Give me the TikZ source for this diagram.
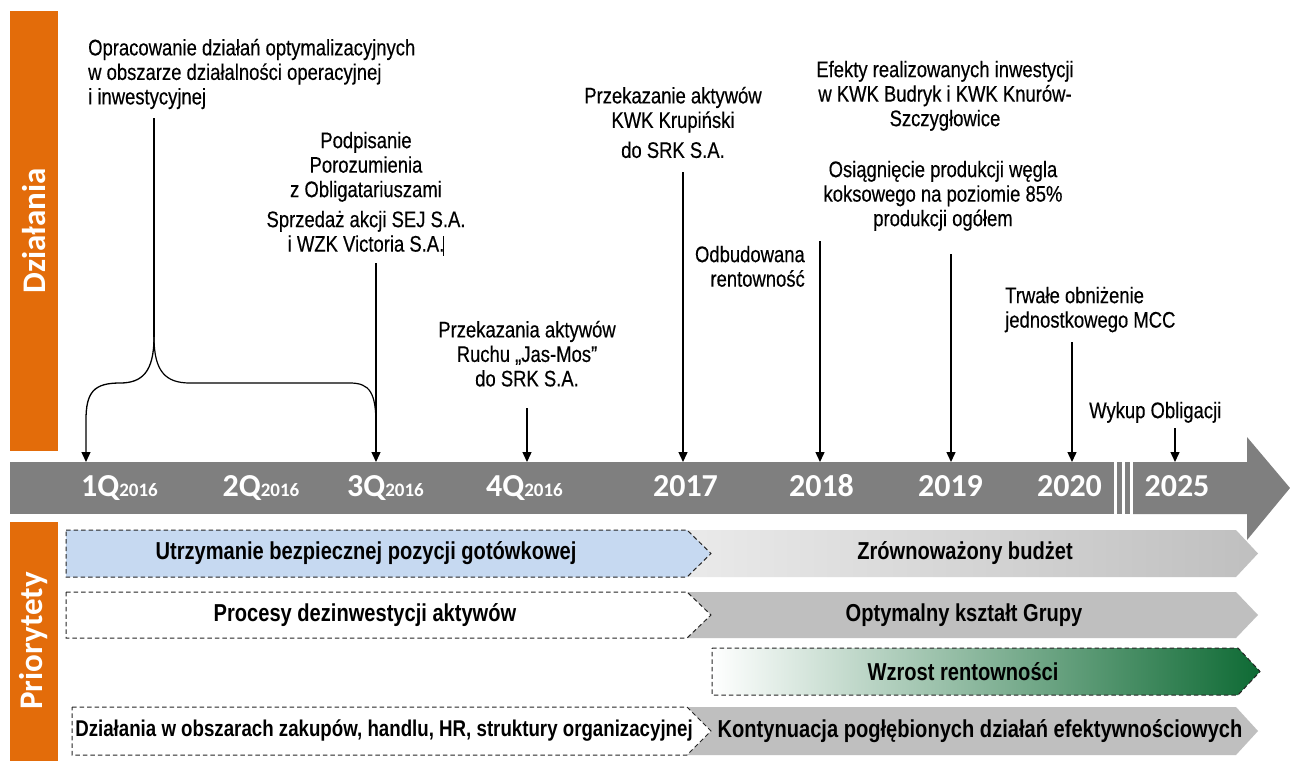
\documentclass[tikz,border=0pt]{standalone}
\usepackage{fontspec}
\setmainfont{Liberation Sans}
\newfontfamily\narrowf[FakeStretch=0.82,FakeBold=0.35]{Liberation Sans}
\newfontfamily\narrowb[FakeStretch=0.82]{Liberation Sans Bold}
\newfontfamily\gillf{Carlito}
\usetikzlibrary{arrows.meta}
\definecolor{orng}{RGB}{227,108,10}
\definecolor{bandgray}{RGB}{127,127,127}
\definecolor{rowgray}{RGB}{191,191,191}
\definecolor{lgray}{RGB}{234,234,234}
\definecolor{blu}{RGB}{198,217,241}
\definecolor{dgreen}{RGB}{14,106,52}
\tikzset{
  ann/.style={font={\narrowf\fontsize{22.5}{24.5}\selectfont}, inner sep=0pt, text=black},
  rowtxt/.style={font={\narrowb\fontsize{24.5}{26}\selectfont}, inner sep=0pt, text=black},
  yearlbl/.style={font={\gillf\bfseries\fontsize{32}{34}\selectfont}, text=white, anchor=base, inner sep=0pt},
  sidelbl/.style={font={\gillf\bfseries\fontsize{33}{35}\selectfont}, text=white, rotate=90, inner sep=0pt},
  arr/.style={draw=black, line width=1.4pt, -{Triangle[length=10pt,width=9pt]}},
  bracel/.style={draw=black, line width=1.2pt},
  dbox/.style={draw=black!85, line width=1pt, dash pattern=on 4.5pt off 3pt},
}
\newcommand{\smallyr}[1]{{\fontsize{19}{20}\selectfont #1}}
\begin{document}
\begin{tikzpicture}[x=1pt,y=-1pt]
\useasboundingbox (0,0) rectangle (1290,761);
\fill[white] (0,0) rectangle (1290,761);

% orange side bars
\fill[orng] (10,11) rectangle (58,451);
\fill[orng] (10,522) rectangle (58,761);
\node[sidelbl] (lblD) at (34,231) {Działania};
\node[sidelbl] (lblP) at (34,641) {Priorytety};

% timeline band
\fill[bandgray] (10,462) rectangle (1114,514);
\fill[bandgray] (1117,462) rectangle (1122,514);
\fill[bandgray] (1125,462) rectangle (1130,514);
\fill[bandgray] (1133,462) -- (1247,462) -- (1247,437) -- (1290,488) -- (1247,540) -- (1247,514) -- (1133,514) -- cycle;

% year labels
\node[yearlbl] (y1) at (119.5,496) {1Q\smallyr{2016}};
\node[yearlbl] (y2) at (261,496) {2Q\smallyr{2016}};
\node[yearlbl] (y3) at (385.5,496) {3Q\smallyr{2016}};
\node[yearlbl] (y4) at (524.5,496) {4Q\smallyr{2016}};
\node[yearlbl] (y17) at (685.5,496) {2017};
\node[yearlbl] (y18) at (821.5,496) {2018};
\node[yearlbl] (y19) at (950.5,496) {2019};
\node[yearlbl] (y20) at (1069.5,496) {2020};
\node[yearlbl] (y25) at (1177,496) {2025};

% priority rows
\shade[left color=lgray, right color=rowgray] (687,530) -- (1236,530) -- (1258,553.5) -- (1236,577) -- (687,577) -- cycle;
\filldraw[fill=blu, dbox] (66,530) -- (687,530) -- (711,553.5) -- (687,577) -- (66,577) -- cycle;
\fill[rowgray] (687,592) -- (1236,592) -- (1258,615) -- (1236,638) -- (687,638) -- cycle;
\filldraw[fill=white, dbox] (66,592) -- (687,592) -- (711,615) -- (687,638) -- (66,638) -- cycle;
\shadedraw[left color=white, right color=dgreen, dbox] (712,648) -- (1238,648) -- (1260,671.5) -- (1238,695) -- (712,695) -- cycle;
\fill[rowgray] (687,707) -- (1236,707) -- (1258,731) -- (1236,755) -- (687,755) -- cycle;
\filldraw[fill=white, dbox] (72,707) -- (687,707) -- (711,731) -- (687,755) -- (72,755) -- cycle;

\node[rowtxt] (p1a) at (366,553.5) {Utrzymanie bezpiecznej pozycji gotówkowej};
\node[rowtxt] (p1b) at (965,553.5) {Zrównoważony budżet};
\node[rowtxt] (p2a) at (365,615) {Procesy dezinwestycji aktywów};
\node[rowtxt] (p2b) at (964,615) {Optymalny kształt Grupy};
\node[rowtxt] (p3) at (963,671.5) {Wzrost rentowności};
\node[rowtxt, font={\narrowb\fontsize{22.8}{24}\selectfont}] (p4a) at (384,731) {Działania w obszarach zakupów, handlu, HR, struktury organizacyjnej};
\node[rowtxt] (p4b) at (980,731) {Kontynuacja pogłębionych działań efektywnościowych};

% annotations
\node[ann, anchor=north west, align=left] (t1) at (88,38.6) {Opracowanie działań optymalizacyjnych\\w obszarze działalności operacyjnej\\i inwestycyjnej};
\node[ann, anchor=north, align=center] (t2) at (366,131.6) {Podpisanie\\Porozumienia\\z Obligatariuszami\\[5.5pt]Sprzedaż akcji SEJ S.A.\\i WZK Victoria S.A.};
\draw[line width=0.6pt] (443.5,236) -- (443.5,256);
\node[ann, anchor=north, align=center] (t3) at (527,320.6) {Przekazania aktywów\\Ruchu „Jas-Mos”\\do SRK S.A.};
\node[ann, anchor=north, align=center] (t4) at (673,86.6) {Przekazanie aktywów\\KWK Krupiński\\[5.5pt]do SRK S.A.};
\node[ann, anchor=north, align=center] (t5) at (945,60.6) {Efekty realizowanych inwestycji\\w KWK Budryk i KWK Knurów-\\Szczygłowice};
\node[ann, anchor=north, align=center] (t6) at (943,160.6) {Osiągnięcie produkcji węgla\\koksowego na poziomie 85\%\\produkcji ogółem};
\node[ann, anchor=north east, align=right] (t7) at (805,245.6) {Odbudowana\\rentowność};
\node[ann, anchor=north west, align=left] (t8) at (1005,286.6) {Trwałe obniżenie\\jednostkowego MCC};
\node[ann, anchor=north west, align=left] (t9) at (1089,401.6) {Wykup Obligacji};

% connector coordinates
\coordinate (s1) at (154,118);
\coordinate (tip) at (154,337);
\coordinate (e1) at (86,462);
\coordinate (s3) at (376,263);
\coordinate (e3) at (376,462);
\coordinate (s4) at (527,408);
\coordinate (e4) at (527,462);
\coordinate (s5) at (683,172);
\coordinate (e5) at (683,462);
\coordinate (s6) at (820,241);
\coordinate (e6) at (820,462);
\coordinate (s7) at (951,254);
\coordinate (e7) at (951,462);
\coordinate (s8) at (1072,342);
\coordinate (e8) at (1072,462);
\coordinate (s9) at (1175,428);
\coordinate (e9) at (1175,462);

% brace
\draw[bracel] (s1) -- (tip);
\draw[bracel, arr, line width=1.3pt] (tip) .. controls (154,372) and (142,383) .. (120,383) .. controls (94,383) and (86,392) .. (86,420) -- (e1);
\draw[bracel] (tip) .. controls (154,372) and (166,383) .. (190,383) -- (350,383) .. controls (370,383) and (376,393) .. (376,425);

% arrows
\draw[arr] (s3) -- (e3);
\draw[arr] (s4) -- (e4);
\draw[arr] (s5) -- (e5);
\draw[arr] (s6) -- (e6);
\draw[arr] (s7) -- (e7);
\draw[arr] (s8) -- (e8);
\draw[arr] (s9) -- (e9);
\end{tikzpicture}
\end{document}
